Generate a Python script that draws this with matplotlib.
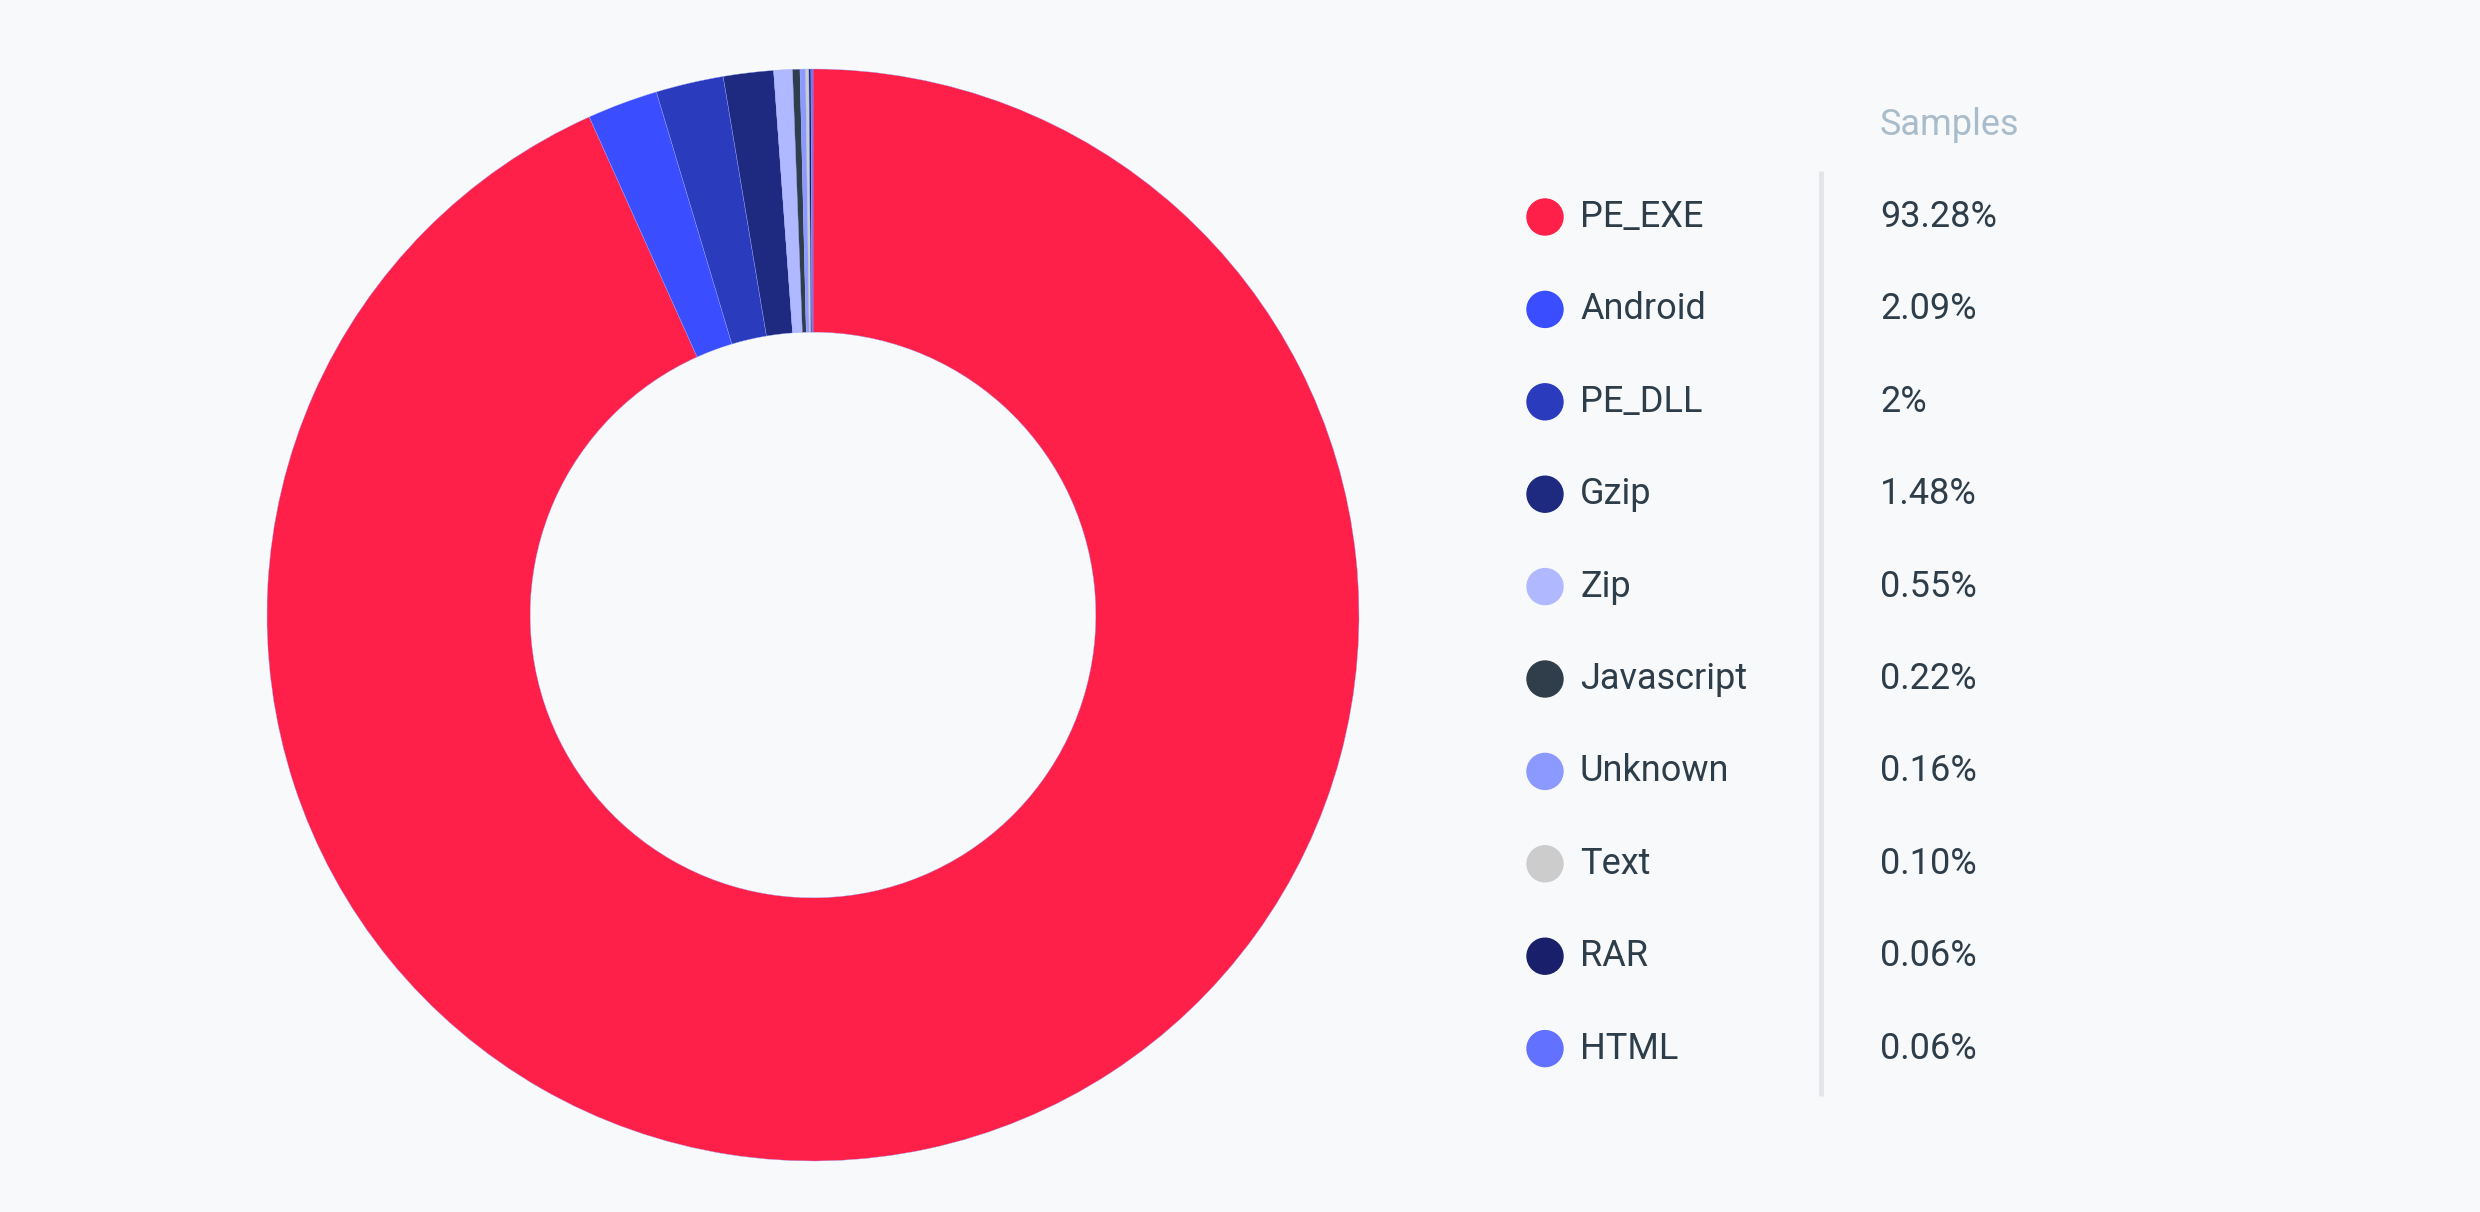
import matplotlib
matplotlib.use("Agg")
import matplotlib.pyplot as plt
from matplotlib.patches import Circle

categories = ["PE_EXE", "Android", "PE_DLL", "Gzip", "Zip", "Javascript",
              "Unknown", "Text", "RAR", "HTML"]
values = [93.28, 2.09, 2.0, 1.48, 0.55, 0.22, 0.16, 0.10, 0.06, 0.06]
value_labels = ["93.28%", "2.09%", "2%", "1.48%", "0.55%", "0.22%",
                "0.16%", "0.10%", "0.06%", "0.06%"]
colors = ["#ff2049", "#3a4dff", "#2b3bbd", "#1e2980", "#b0b8ff", "#2f3e4a",
          "#8c99ff", "#cccccc", "#1a1f6b", "#6271ff"]
header = "Samples"

W, H = 2480, 1212
bg = "#f7f9fb"
text_color = "#2d3e4a"

plt.rcParams['font.family'] = ['Roboto', 'DejaVu Sans']

fig = plt.figure(figsize=(W / 100, H / 100), dpi=100, facecolor=bg)
ax = fig.add_axes([0, 0, 1, 1])
ax.set_facecolor(bg)

cx, cy, R = 813, H - 615, 546
ax.pie(values, colors=colors, startangle=90, counterclock=False,
       center=(cx, cy), radius=R,
       wedgeprops=dict(width=R * 0.482, linewidth=0.25, edgecolor="#9aa6ff"))

ax.set_xlim(0, W)
ax.set_ylim(0, H)
ax.set_aspect('equal')
ax.set_axis_off()

# legend
row0 = 217
step = 92.4
x_dot, x_lab, x_val = 1545, 1580, 1880
for i, (c, lab, v) in enumerate(zip(colors, categories, value_labels)):
    y = H - (row0 + i * step)
    ax.add_patch(Circle((x_dot, y), 18, color=c, zorder=3))
    ax.text(x_lab, y, lab, fontsize=26, color=text_color, va='center', ha='left')
    ax.text(x_val, y, v, fontsize=26, color=text_color, va='center', ha='left')

ax.text(x_val, H - 125, header, fontsize=26, color="#a9bccb", va='center', ha='left')
ax.plot([1821, 1821], [H - 171, H - 1096], color="#e3e6e9", linewidth=3.5,
        solid_capstyle='butt')

fig.savefig("out.png", dpi=100, facecolor=bg)
